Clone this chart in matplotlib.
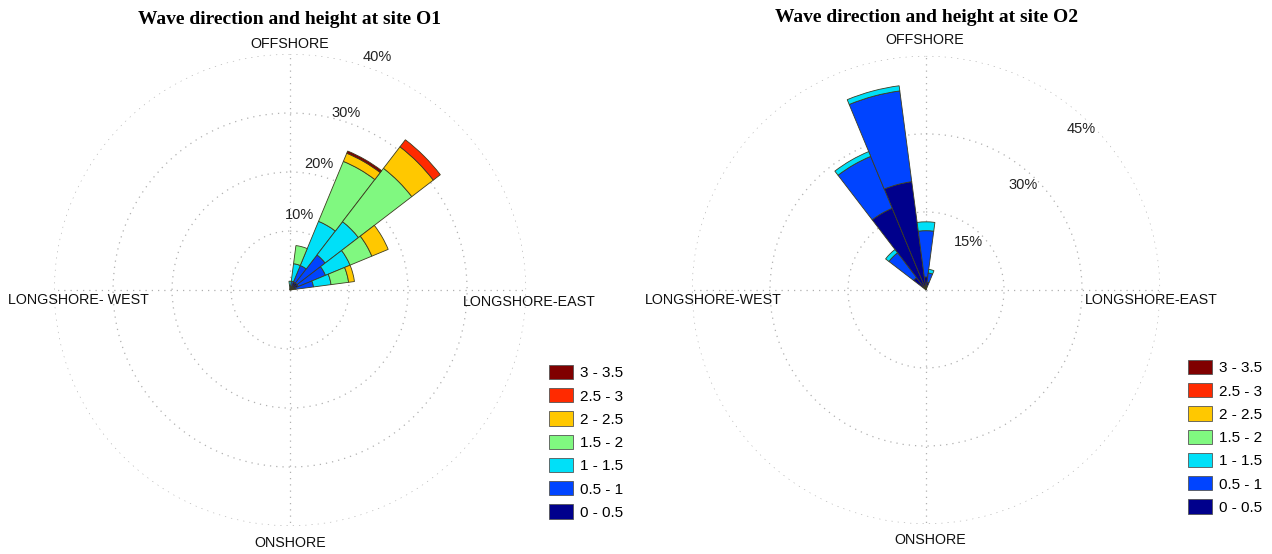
import matplotlib.pyplot as plt
import numpy as np
from matplotlib.patches import Patch

# Wave height classes (m) and colours
height_bins = ['0 - 0.5', '0.5 - 1', '1 - 1.5', '1.5 - 2', '2 - 2.5', '2.5 - 3', '3 - 3.5']
bin_colors = ['#00008c', '#0044ff', '#00e0f8', '#80f880', '#ffc800', '#ff2a00', '#800000']

# Site O1: direction sectors (deg) and frequency (%) per height class
o1_dirs = [0, 15, 30, 45, 60, 75]
o1_h0 = [0.3, 0.5, 1.5, 1.5, 1.5, 1.0]
o1_h1 = [0.5, 1.0, 3.0, 6.0, 5.0, 3.0]
o1_h2 = [0.7, 3.0, 8.1, 7.1, 4.5, 3.0]
o1_h3 = [0.0, 3.1, 11.0, 11.4, 4.0, 3.0]
o1_h4 = [0.0, 0.0, 1.5, 4.6, 3.0, 1.0]
o1_h5 = [0.0, 0.0, 0.0, 1.5, 0.0, 0.0]
o1_h6 = [0.0, 0.0, 0.4, 0.0, 0.0, 0.0]

# Site O2
o2_dirs = [315, 330, 345, 0, 15]
o2_h0 = [3.0, 17.0, 21.0, 2.5, 1.5]
o2_h1 = [6.0, 10.8, 17.6, 8.9, 1.8]
o2_h2 = [0.8, 1.0, 1.0, 1.7, 0.7]
o2_h3 = [0, 0, 0, 0, 0]
o2_h4 = [0, 0, 0, 0, 0]
o2_h5 = [0, 0, 0, 0, 0]
o2_h6 = [0, 0, 0, 0, 0]

o1_rings = [10, 20, 30, 40]
o2_rings = [15, 30, 45]

W, H = 1272, 554
fig = plt.figure(figsize=(W / 100, H / 100), dpi=100)


def px(x, y):
    return x / W, 1 - y / H


def rose(rect, dirs, layers, rings, ring_labels, title, title_xy, dir_labels, leg_xy):
    ax = fig.add_axes(rect, projection='polar')
    ax.set_theta_zero_location('N')
    ax.set_theta_direction(-1)
    ax.set_ylim(0, rings[-1])
    ax.set_rgrids(rings, labels=[])
    ax.set_thetagrids([0, 90, 180, 270], labels=[])
    ax.grid(True, color='#b0b0b0', linestyle=(0, (1, 4)), linewidth=0.9)
    ax.spines['polar'].set_visible(False)
    ax.set_axisbelow(True)

    theta = np.deg2rad(dirs)
    width = np.deg2rad(15)
    bottom = np.zeros(len(dirs))
    for vals, col in zip(layers, bin_colors):
        vals = np.array(vals, dtype=float)
        mask = vals > 0
        ax.bar(theta[mask], vals[mask], width=width, bottom=bottom[mask],
               color=col, edgecolor='#3c3c20', linewidth=0.6, zorder=3)
        bottom += vals

    for (ang, r, txt) in ring_labels:
        ax.text(np.deg2rad(ang), r, txt, ha='center', va='center',
                fontsize=10.5, family='Liberation Sans', color='#222222', zorder=4)

    fig.text(*px(*title_xy), title, ha='center', va='center', fontsize=14,
             fontweight='bold', family='Liberation Serif')
    for (x, y, txt, ha) in dir_labels:
        fig.text(*px(x, y), txt, ha=ha, va='center', fontsize=10.3,
                 family='Liberation Sans', color='#111111')

    handles = [Patch(facecolor=c, edgecolor='#555555', linewidth=0.6, label=l)
               for l, c in zip(height_bins, bin_colors)][::-1]
    ax.legend(handles=handles, loc='upper left', bbox_to_anchor=px(*leg_xy),
              bbox_transform=fig.transFigure, frameon=False, borderpad=0,
              borderaxespad=0, handlelength=1.6, handleheight=1.05,
              handletextpad=0.4, labelspacing=0.52,
              prop={'family': 'Liberation Sans', 'size': 11})
    return ax


rose([0.0425, 0.0505, 0.3711, 0.852], o1_dirs,
     [o1_h0, o1_h1, o1_h2, o1_h3, o1_h4, o1_h5, o1_h6], o1_rings,
     [(7, 12.8, '10%'), (13, 22, '20%'), (17.5, 31.5, '30%'), (20.5, 42.2, '40%')],
     'Wave direction and height at site O1', (290, 19),
     [(290, 44, 'OFFSHORE', 'center'), (8, 300, 'LONGSHORE- WEST', 'left'),
      (463, 302, 'LONGSHORE-EAST', 'left'), (290, 543, 'ONSHORE', 'center')],
     (549, 365))

rose([0.544, 0.0541, 0.368, 0.845], o2_dirs,
     [o2_h0, o2_h1, o2_h2, o2_h3, o2_h4, o2_h5, o2_h6], o2_rings,
     [(42, 12.3, '15%'), (43, 27.5, '30%'), (44, 42.9, '45%')],
     'Wave direction and height at site O2', (927, 17),
     [(925, 40, 'OFFSHORE', 'center'), (645, 300, 'LONGSHORE-WEST', 'left'),
      (1085, 300, 'LONGSHORE-EAST', 'left'), (930, 540, 'ONSHORE', 'center')],
     (1188, 360))

fig.savefig('out.png', dpi=100)
